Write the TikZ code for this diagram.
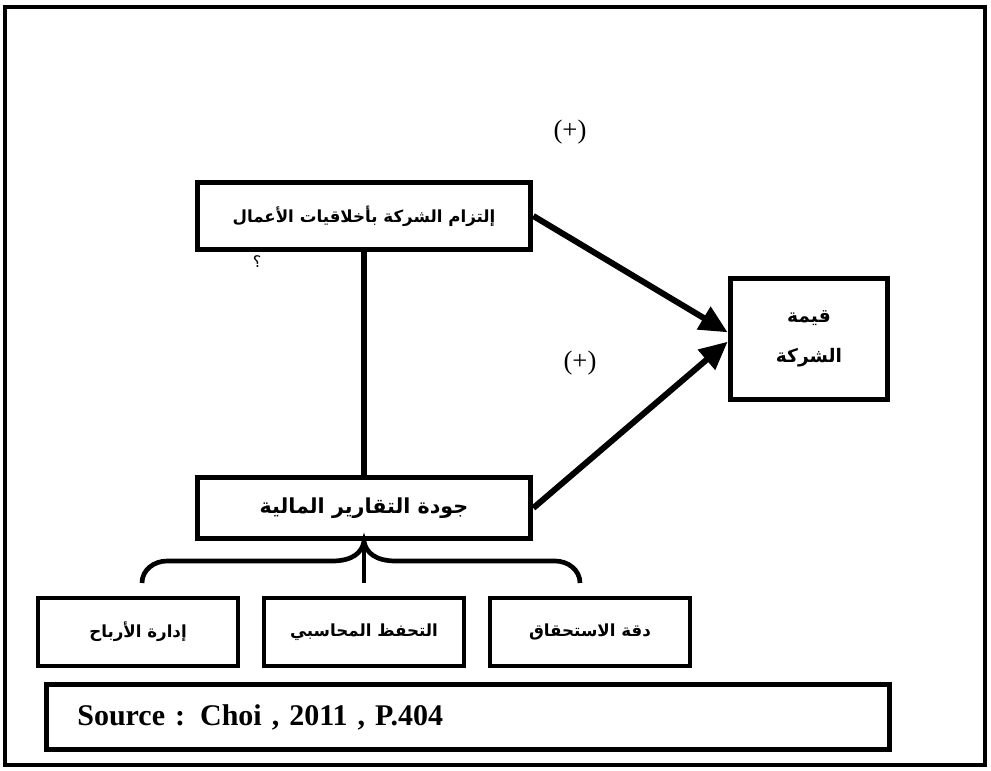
\documentclass[tikz,border=0pt]{standalone}
\usepackage{fontspec}
\setmainfont{Liberation Serif}
\newfontfamily\arabicfont[Script=Arabic]{DejaVu Sans}
\TeXXeTstate=1
\usetikzlibrary{arrows.meta,positioning}
\newcommand{\artext}[1]{{\arabicfont\bfseries\beginR #1\endR}}

\begin{document}
\begin{tikzpicture}[x=0.75pt,y=-0.75pt,>={Triangle[length=21pt,width=19pt]},
box/.style={draw,line width=4pt,minimum width=250pt,inner sep=0pt,align=center},
subbox/.style={draw,line width=3.5pt,minimum width=150pt,minimum height=51pt,inner sep=0pt,font=\fontsize{12.5}{14}\selectfont},
link/.style={line width=4.5pt},
brace/.style={line width=3.5pt}]
\useasboundingbox (0,0) rectangle (991,770);
\draw[line width=2.5pt] (5,7) rectangle (985,765);
\node[box,minimum height=50pt,font=\fontsize{12.5}{14}\selectfont] (ethics) at (364,216) {\artext{إلتزام الشركة بأخلاقيات الأعمال}};
\node[box,minimum height=46pt,font=\fontsize{15.5}{18}\selectfont] (reporting) at (364,508) {\artext{جودة التقارير المالية}};
\node[box,minimum width=118pt,minimum height=91pt,font=\fontsize{14}{30}\selectfont] (value) at (809,339) {\artext{قيمة}\\\artext{الشركة}};
\node[font=\fontsize{20}{22}\selectfont] (plus1) at (570,132) {(+)};
\node[font=\fontsize{20}{22}\selectfont] (plus2) at (580,363) {(+)};
\node[font=\arabicfont\fontsize{12}{14}\selectfont] (qmark) at (257,262) {؟};
\node[subbox] (accrual) at (590,632) {\artext{دقة الاستحقاق}};
\node[subbox,left=16pt of accrual] (conserv) {\artext{التحفظ المحاسبي}};
\node[subbox,left=16pt of conserv] (earnings) {\artext{إدارة الأرباح}};
\node[draw,line width=3.5pt,text width=586pt,inner xsep=23pt,minimum height=49pt,align=left,
  font=\bfseries\fontsize{22.5}{26}\selectfont] (source) at (468,717) {Source : Choi , 2011 , P.404};
\draw[link] (ethics.south) -- (ethics.south |- reporting.north);
\draw[link,->] (ethics.east) -- ([yshift=5pt]value.west);
\draw[link,->] (reporting.east) -- ([yshift=-2pt]value.west);
\draw[brace] (142,583) to[out=90,in=180] (167,561) -- (332,561) .. controls (352,561) and (362,553) .. (reporting.south)
  .. controls (366,553) and (376,561) .. (396,561) -- (555,561) to[out=0,in=90] (580,583);
\draw[brace] (reporting.south) -- (364,583);
\end{tikzpicture}
\end{document}
